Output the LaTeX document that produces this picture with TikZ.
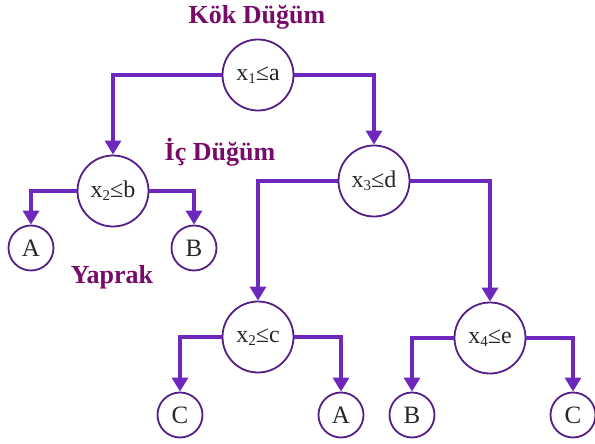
\documentclass[tikz,border=0pt]{standalone}
\usepackage{fontspec}
\setmainfont{Liberation Serif}
\usetikzlibrary{arrows.meta}
\definecolor{linecol}{RGB}{110,40,190}
\definecolor{circcol}{RGB}{85,30,135}
\definecolor{labcol}{RGB}{120,10,105}
\newcommand{\sbs}[1]{\raisebox{-0.3ex}{\fontsize{15}{15}\selectfont #1}}
\tikzset{
  inner/.style={circle, draw=circcol, line width=1.8pt, minimum size=71pt, inner sep=0pt, font=\fontsize{24}{26}\selectfont, text=black!85},
  leaf/.style={circle, draw=circcol, line width=1.8pt, minimum size=45pt, inner sep=0pt, font=\fontsize{25}{26}\selectfont, text=black!85},
  lab/.style={font=\bfseries\fontsize{26}{30}\selectfont, text=labcol},
  conn/.style={draw=linecol, line width=3.3pt, -{Triangle[width=16pt,length=14pt]}}
}
\begin{document}
\begin{tikzpicture}[x=1pt,y=-1pt]
\useasboundingbox (0,0) rectangle (595,444);
\node[lab] (klab) at (257,17) {Kök Düğüm};
\node[lab] (ilab) at (220,152) {İç Düğüm};
\node[lab] (ylab) at (112,277) {Yaprak};

\node[inner] (root) at (258,75) {x\sbs{1}≤a};
\node[inner] (xb) at (113,191) {x\sbs{2}≤b};
\node[inner] (xd) at (374,181) {x\sbs{3}≤d};
\node[inner] (xc) at (258,337) {x\sbs{2}≤c};
\node[inner] (xe) at (490,338) {x\sbs{4}≤e};

\node[leaf] (A1) at (31,248) {A};
\node[leaf] (B1) at (194,248) {B};
\node[leaf] (C1) at (180,415) {C};
\node[leaf] (A2) at (341,415) {A};
\node[leaf] (B2) at (412,415) {B};
\node[leaf] (C2) at (573,415) {C};

\draw[conn] (root.west) -| (xb.north);
\draw[conn] (root.east) -| (xd.north);
\draw[conn] (xb.west) -| (A1.north);
\draw[conn] (xb.east) -| (B1.north);
\draw[conn] (xd.west) -| (xc.north);
\draw[conn] (xd.east) -| (xe.north);
\draw[conn] (xc.west) -| (C1.north);
\draw[conn] (xc.east) -| (A2.north);
\draw[conn] (xe.west) -| (B2.north);
\draw[conn] (xe.east) -| (C2.north);
\end{tikzpicture}
\end{document}
